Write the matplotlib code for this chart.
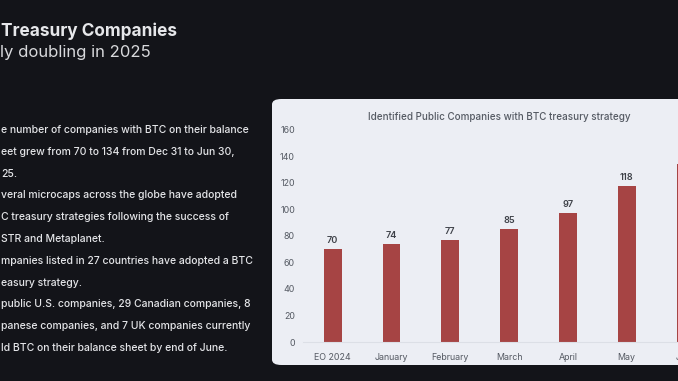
import matplotlib.pyplot as plt
from matplotlib.patches import FancyBboxPatch

plt.rcParams['font.family'] = ['Inter', 'DejaVu Sans']

# data
months = ["EO 2024", "January", "February", "March", "April", "May", "June"]
companies = [70, 74, 77, 85, 97, 118, 134]
y_ticks = [0, 20, 40, 60, 80, 100, 120, 140, 160]

title = "Treasury Companies"
subtitle = "ly doubling in 2025"
bullet_lines = [
    "e number of companies with BTC on their balance",
    "eet grew from 70 to 134 from Dec 31 to Jun 30,",
    "25.",
    "veral microcaps across the globe have adopted",
    "C treasury strategies following the success of",
    "STR and Metaplanet.",
    "mpanies listed in 27 countries have adopted a BTC",
    "easury strategy.",
    "public U.S. companies, 29 Canadian companies, 8",
    "panese companies, and 7 UK companies currently",
    "ld BTC on their balance sheet by end of June.",
]
chart_title = "Identified Public Companies with BTC treasury strategy"

W, H = 678, 381
BG = "#131419"
PANEL = "#eceef4"
BAR = "#a64444"

fig = plt.figure(figsize=(W / 100, H / 100), dpi=100)
fig.patch.set_facecolor(BG)


def fx(px):
    return px / W


def fy(py):
    return 1 - py / H


# left text block
fig.text(fx(1), fy(31), title, color="#e6e7ea", fontsize=12.4,
         fontweight="bold", va="center", ha="left")
fig.text(fx(0), fy(53), subtitle, color="#d8d9dc", fontsize=12.0,
         fontweight="normal", va="center", ha="left")

line_y0, line_step = 130, 21.8
for i, line in enumerate(bullet_lines):
    fig.text(fx(1), fy(line_y0 + i * line_step), line, color="#e4e5e8",
             fontsize=7.5, fontweight="medium", va="center", ha="left")

# chart panel (runs off the right edge)
panel = FancyBboxPatch((fx(272), fy(365)), fx(460), (365 - 99) / H,
                       boxstyle="round,pad=0,rounding_size=0.014",
                       transform=fig.transFigure, facecolor=PANEL,
                       edgecolor="none", zorder=-1)
fig.patches.append(panel)

fig.text(fx(499), fy(117), chart_title, color="#555a63", fontsize=7.1,
         fontweight="medium", va="center", ha="center")

ax_left, ax_width = 303.3, 7 * 58.8
ax = fig.add_axes([fx(ax_left), fy(342), fx(ax_width), (342 - 130) / H])
ax.set_facecolor("none")

x = range(len(months))
bars = ax.bar(x, companies, width=0.30, color=BAR, zorder=2)
for xi, v in zip(x, companies):
    ax.text(xi, v + 3, str(v), ha="center", va="bottom", fontsize=6.6,
            fontweight="semibold", color="#3e4148")

ax.set_xlim(-0.5, len(months) - 0.5)
ax.set_ylim(0, 160)
ax.set_xticks(list(x))
ax.set_xticklabels(months)
ax.set_yticks(y_ticks)
ax.tick_params(axis="both", length=0, labelsize=6.4, colors="#555a63")
ax.tick_params(axis="x", pad=8)
ax.tick_params(axis="y", pad=6)
for s in ["top", "right", "left"]:
    ax.spines[s].set_visible(False)
ax.spines["bottom"].set_color("#dcdfe6")
ax.spines["bottom"].set_linewidth(0.8)

fig.savefig("out.png", dpi=100, facecolor=BG)
